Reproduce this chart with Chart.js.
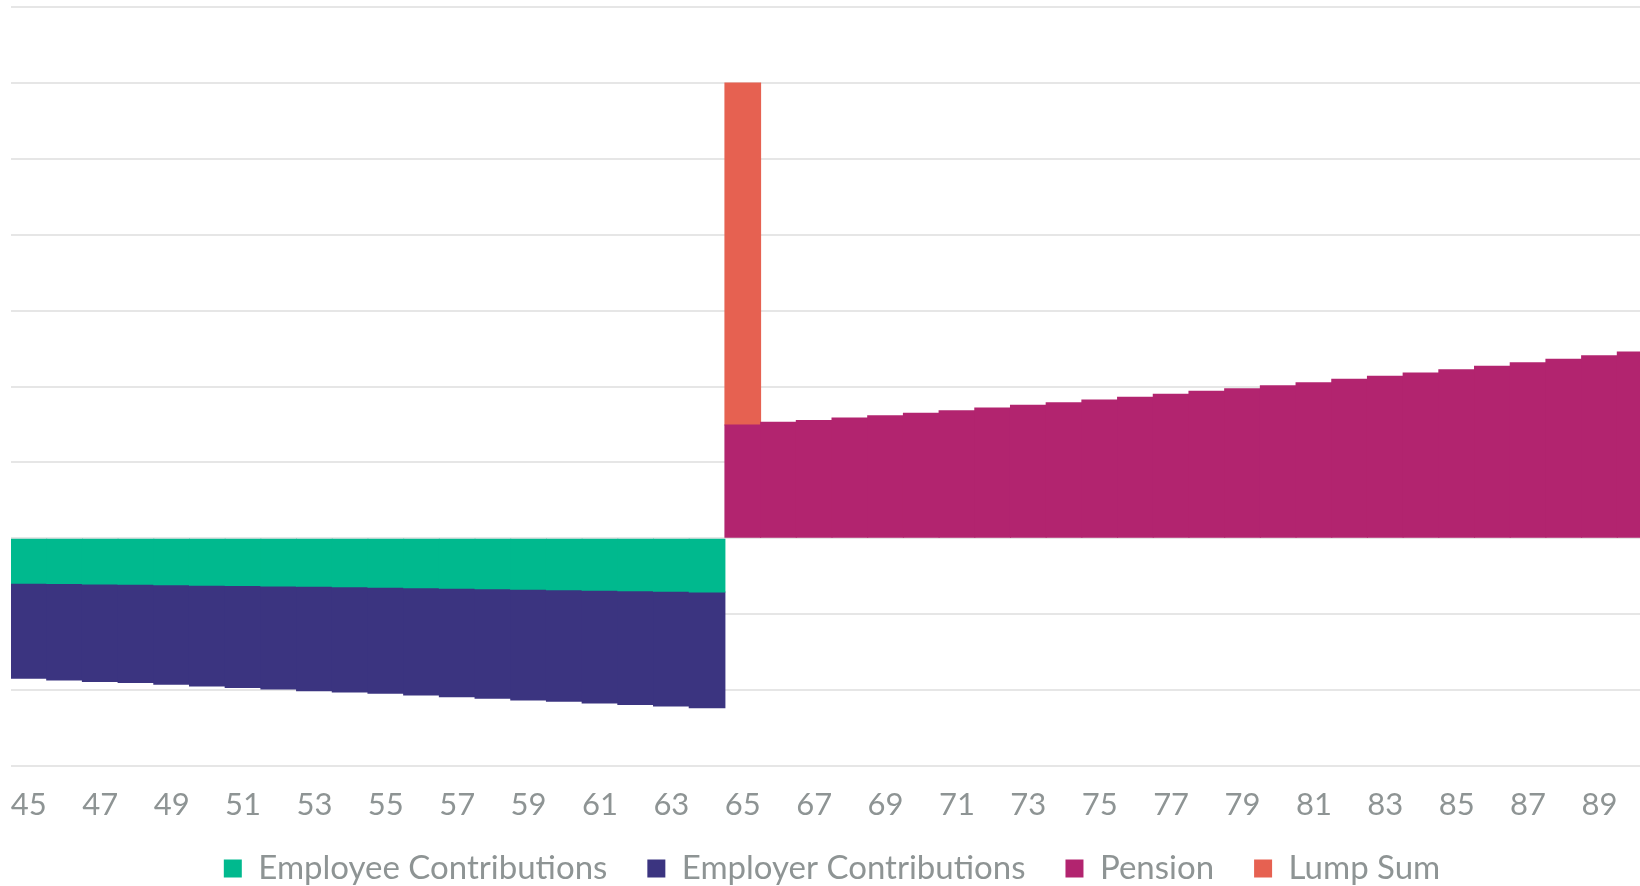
<!DOCTYPE html>
<html>
<head>
<meta charset="utf-8">
<script src="https://cdn.jsdelivr.net/npm/chart.js@4"></script>
<style>
  html, body { margin: 0; padding: 0; background: #fff; overflow: hidden; }
  #wrap { position: relative; width: 1653px; height: 886px; }
</style>
</head>
<body>
<div id="wrap"><canvas id="myChart"></canvas></div>
<script>
// ages shown along the bottom
var Ages = ['45','46','47','48','49','50','51','52','53','54','55','56','57','58','59','60','61','62','63','64',
            '65','66','67','68','69','70','71','72','73','74','75','76','77','78','79','80','81','82','83','84',
            '85','86','87','88','89','90'];

// contributions paid in (negative), ages 45-64
var Employee = [-593,-597,-602,-606,-613,-619,-623,-628,-632,-639,-646,-652,-659,-665,-672,-679,-685,-692,-698,-707];
var Employer = [-1252,-1270,-1286,-1295,-1311,-1327,-1344,-1358,-1375,-1386,-1396,-1413,-1427,-1443,-1458,-1469,-1485,-1499,-1511,-1524];

// paid out, ages 65-90
var Pension = [1493,1528,1551,1585,1615,1647,1681,1717,1752,1787,1822,1858,1897,1937,1971,2011,2050,2095,2134,2178,
               2221,2266,2314,2358,2406,2455];
var LumpSum = [4507];

var Y_MIN = -3000;
var Y_MAX = 7000;

function padTo(list, before, total) {
    var out = [];
    for (var i = 0; i < before; i++) out.push(null);
    for (var j = 0; j < list.length; j++) out.push(list[j]);
    while (out.length < total) out.push(null);
    return out;
}

var n = Ages.length;
var retireIdx = Ages.indexOf('65');

var greyText = '#8e9494';

const data = {
    labels: Ages,
    datasets: [
        { label: 'Employee Contributions', data: padTo(Employee, 0, n), backgroundColor: '#00b98e' },
        { label: 'Employer Contributions', data: padTo(Employer, 0, n), backgroundColor: '#3b3480' },
        { label: 'Pension', data: padTo(Pension, retireIdx, n), backgroundColor: '#b2246f' },
        { label: 'Lump Sum', data: padTo(LumpSum, retireIdx, n), backgroundColor: '#e66151' }
    ]
};

const config = {
    type: 'bar',
    data: data,
    options: {
        responsive: true,
        maintainAspectRatio: false,
        animation: false,
        layout: { padding: { top: 7, left: 11, right: 0, bottom: -9 } },
        datasets: {
            bar: { barPercentage: 1, categoryPercentage: 1, borderWidth: 0, inflateAmount: 0.5 }
        },
        plugins: {
            tooltip: { enabled: false },
            legend: {
                position: 'bottom',
                labels: {
                    boxWidth: 18,
                    boxHeight: 18,
                    padding: 40,
                    color: greyText,
                    font: { family: 'Lato', size: 33 }
                }
            }
        },
        scales: {
            x: {
                stacked: true,
                grid: { display: false },
                border: { display: false },
                ticks: {
                    autoSkip: false,
                    maxRotation: 0,
                    padding: 12,
                    color: greyText,
                    font: { family: 'Lato', size: 31 },
                    callback: function (value, index) {
                        return index % 2 === 0 ? this.getLabelForValue(value) : '';
                    }
                },
                afterFit: function (scale) {
                    // labels hang below into the legend band, like the original
                    scale.height = 46;
                    scale.paddingLeft = 0;
                    scale.paddingRight = 0;
                    scale._computeLabelArea = function () { return undefined; };
                }
            },
            y: {
                stacked: true,
                min: Y_MIN,
                max: Y_MAX,
                border: { display: false },
                grid: { color: '#e6e6e6', lineWidth: 2, drawTicks: false },
                ticks: { display: false, stepSize: 1000 }
            }
        }
    }
};

const myChart = new Chart(document.getElementById('myChart'), config);
</script>
</body>
</html>
